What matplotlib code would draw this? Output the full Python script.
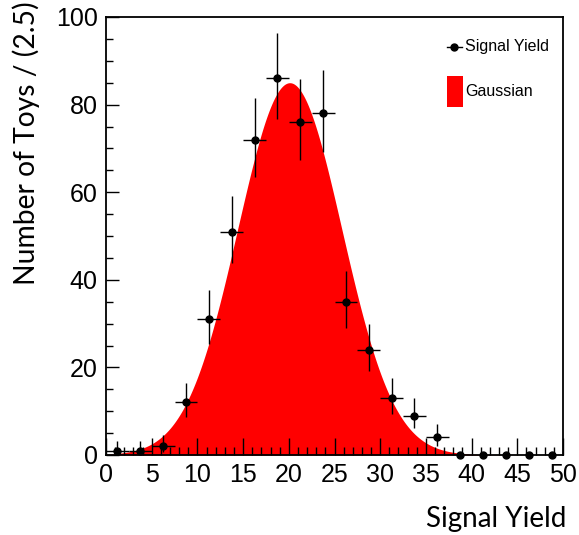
import numpy as np
import matplotlib
matplotlib.use('Agg')
import matplotlib.pyplot as plt
from matplotlib.ticker import MultipleLocator

# binned toy results, bin width 2.5
bin_centers = [1.25, 3.75, 6.25, 8.75, 11.25, 13.75, 16.25, 18.75, 21.25, 23.75,
               26.25, 28.75, 31.25, 33.75, 36.25, 38.75, 41.25, 43.75, 46.25, 48.75]
counts = [1, 1, 2, 12, 31, 51, 72, 86, 76, 78, 35, 24, 13, 9, 4, 0, 0, 0, 0, 0]
# asymmetric (Poisson) errors
err_lo = [0.83, 0.83, 1.29, 3.42, 5.55, 7.13, 8.47, 9.26, 8.70, 8.81,
          5.90, 4.87, 3.57, 2.94, 1.91, 0, 0, 0, 0, 0]
err_hi = [2.30, 2.30, 2.64, 4.53, 6.62, 8.19, 9.51, 10.30, 9.75, 9.86,
          6.97, 5.95, 4.67, 4.11, 3.16, 0, 0, 0, 0, 0]
half_width = 1.25

# gaussian fit parameters
gaus_amp = 85.0
gaus_mean = 20.1
gaus_sigma = 5.7

x_min, x_max = 0, 50
y_min, y_max = 0, 100

fig = plt.figure(figsize=(5.79, 5.35), dpi=100)
ax = fig.add_axes([106/579, 80/535, 457/579, 438/535])

# gaussian curve, filled red
xs = np.linspace(x_min, x_max, 500)
ys = gaus_amp * np.exp(-0.5 * ((xs - gaus_mean) / gaus_sigma) ** 2)
ax.fill_between(xs, 0, ys, color='#ff0000', linewidth=0, zorder=1)

# data points with error bars
xc = np.array(bin_centers)
yc = np.array(counts)
xerr = np.where(yc > 0, half_width, 0)
ax.errorbar(xc, yc, yerr=[err_lo, err_hi], xerr=xerr, fmt='o', color='black',
            markersize=5, elinewidth=1.0, capsize=0, zorder=3, clip_on=False)

ax.set_xlim(x_min, x_max)
ax.set_ylim(y_min, y_max)

ax.xaxis.set_major_locator(MultipleLocator(5))
ax.xaxis.set_minor_locator(MultipleLocator(1))
ax.yaxis.set_major_locator(MultipleLocator(20))
ax.yaxis.set_minor_locator(MultipleLocator(5))
ax.tick_params(which='both', direction='in', top=False, right=False, width=1.0)
ax.tick_params(axis='x', which='major', length=12, labelsize=18, pad=6)
ax.tick_params(axis='x', which='minor', length=6)
ax.tick_params(axis='y', which='major', length=9, labelsize=18, pad=6)
ax.tick_params(axis='y', which='minor', length=5)
for lab in ax.get_xticklabels() + ax.get_yticklabels():
    lab.set_family('Liberation Sans')
for s in ax.spines.values():
    s.set_linewidth(1.3)

# legend drawn by hand in axes coordinates
ax.plot([0.746, 0.779], [0.932, 0.932], color='black', lw=1.0, transform=ax.transAxes)
ax.plot([0.7625], [0.932], 'o', color='black', markersize=5, transform=ax.transAxes)
ax.text(0.786, 0.932, 'Signal Yield', transform=ax.transAxes, va='center', ha='left',
        fontsize=11.5, family='Liberation Sans')
ax.add_patch(plt.Rectangle((0.746, 0.795), 0.035, 0.07, color='#ff0000',
                           transform=ax.transAxes, linewidth=0))
ax.text(0.786, 0.831, 'Gaussian', transform=ax.transAxes, va='center', ha='left',
        fontsize=11.5, family='Liberation Sans')

# axis titles
fig.text(26/579, 0.998, 'Number of Toys / (2.5)', rotation=90, ha='center', va='top',
         fontsize=20.3, family='Lato')
fig.text(566/579, 16/535, 'Signal Yield', ha='right', va='center',
         fontsize=20, family='Lato')

plt.savefig('out.png', dpi=100)
